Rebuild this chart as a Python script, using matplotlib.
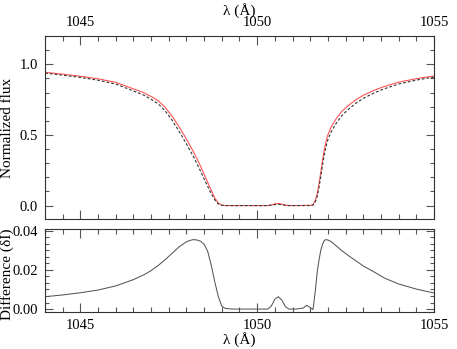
import matplotlib
matplotlib.use('Agg')
import matplotlib.pyplot as plt
from matplotlib.ticker import MultipleLocator

# wavelength grid (Angstrom)
wave = [1044.0, 1044.5, 1045.0, 1045.5, 1046.0, 1046.5, 1046.8, 1047.0, 1047.2, 1047.4,
        1047.6, 1047.8, 1048.0, 1048.1, 1048.2, 1048.3, 1048.4, 1048.5, 1048.6, 1048.7,
        1048.8, 1048.9, 1049.0, 1049.1, 1049.3, 1049.6, 1050.0, 1050.3, 1050.4, 1050.5,
        1050.6, 1050.7, 1050.8, 1050.9, 1051.1, 1051.3, 1051.4, 1051.5, 1051.58, 1051.65,
        1051.7, 1051.75, 1051.8, 1051.85, 1051.9, 1051.95, 1052.0, 1052.1, 1052.25, 1052.4,
        1052.6, 1052.8, 1053.0, 1053.3, 1053.6, 1054.0, 1054.5, 1055.0]

# red solid profile
flux_red = [0.943, 0.930, 0.915, 0.897, 0.872, 0.826, 0.798, 0.772, 0.742, 0.695,
            0.630, 0.555, 0.470, 0.425, 0.380, 0.330, 0.278, 0.222, 0.165, 0.108,
            0.055, 0.018, 0.003, 0.0003, 0.0, 0.0, 0.0, 0.0, 0.004, 0.012,
            0.015, 0.010, 0.003, 0.0, 0.0, 0.0005, 0.002, 0.001, 0.004, 0.040,
            0.085, 0.155, 0.235, 0.320, 0.395, 0.455, 0.500, 0.559, 0.620, 0.668,
            0.712, 0.750, 0.780, 0.815, 0.843, 0.873, 0.898, 0.917]

# black dashed profile
flux_dash = [0.937, 0.923, 0.907, 0.887, 0.860, 0.811, 0.781, 0.752, 0.720, 0.670,
             0.602, 0.523, 0.436, 0.390, 0.345, 0.295, 0.243, 0.189, 0.136, 0.086,
             0.041, 0.012, 0.002, 0.0, 0.0, 0.0, 0.0, 0.0, 0.0025, 0.0070,
             0.0087, 0.0055, 0.0018, 0.0, 0.0, 0.0, 0.0001, 0.0002, 0.0043, 0.030,
             0.066, 0.130, 0.205, 0.287, 0.360, 0.420, 0.465, 0.525, 0.588, 0.638,
             0.685, 0.7255, 0.758, 0.796, 0.827, 0.860, 0.888, 0.909]

# difference panel
diff = [0.0063, 0.0072, 0.0083, 0.0097, 0.0118, 0.0150, 0.0175, 0.0196, 0.0222, 0.0252,
        0.0285, 0.0318, 0.0343, 0.0350, 0.0354, 0.0352, 0.0346, 0.0330, 0.0295, 0.0225,
        0.0140, 0.0065, 0.0015, 0.0003, 0.0, 0.0, 0.0, 0.0, 0.0015, 0.0050,
        0.0063, 0.0045, 0.0012, 0.0, 0.0, 0.0005, 0.0019, 0.0008, -0.0003, 0.010,
        0.019, 0.025, 0.030, 0.033, 0.0350, 0.0354, 0.0352, 0.0343, 0.0320, 0.0297,
        0.0270, 0.0245, 0.0220, 0.0190, 0.0158, 0.0128, 0.0102, 0.0082]

plt.rcParams['font.family'] = ['Liberation Serif', 'DejaVu Serif']
plt.rcParams['font.size'] = 10.5

fig = plt.figure(figsize=(4.57, 3.49), dpi=100)
ax1 = fig.add_axes([0.0985, 0.3725, 0.851, 0.5244])
ax2 = fig.add_axes([0.0985, 0.106, 0.851, 0.2378])


def style(ax, labeltop):
    for s in ax.spines.values():
        s.set_linewidth(0.8)
        s.set_color('#333333')
    ax.tick_params(which='both', direction='in', top=True, right=True,
                   color='#555555', width=0.8, labelsize=10.5, pad=5)
    ax.tick_params(which='major', length=6.5)
    ax.tick_params(which='minor', length=3.5)
    ax.tick_params(axis='y', which='major', length=5.5)
    ax.tick_params(axis='y', which='minor', length=2.8)
    ax.tick_params(axis='x', labeltop=labeltop, labelbottom=not labeltop)
    ax.xaxis.set_major_locator(MultipleLocator(5))
    ax.xaxis.set_minor_locator(MultipleLocator(0.5))
    ax.set_xlim(1044, 1055)


style(ax1, True)
ax1.plot(wave, flux_red, color='#ff5555', lw=0.8)
ax1.plot(wave, flux_dash, color='#333333', lw=0.8, dashes=(2.5, 1.8))
ax1.set_ylim(-0.095, 1.2)
ax1.yaxis.set_major_locator(MultipleLocator(0.5))
ax1.yaxis.set_minor_locator(MultipleLocator(0.1))
ax1.yaxis.set_major_formatter(plt.FormatStrFormatter('%.1f'))
ax1.set_ylabel('Normalized flux', fontsize=11)
ax1.yaxis.set_label_coords(-0.079, 0.5)
ax1.xaxis.set_label_position('top')
ax1.set_xlabel('λ (Å)', labelpad=1, fontsize=11)

style(ax2, False)
ax2.plot(wave, diff, color='#555555', lw=0.75)
ax2.set_ylim(-0.0015, 0.0408)
ax2.yaxis.set_major_locator(MultipleLocator(0.02))
ax2.yaxis.set_minor_locator(MultipleLocator(0.02 / 6))
ax2.yaxis.set_major_formatter(plt.FormatStrFormatter('%.2f'))
ax2.set_ylabel('Difference (δI)', fontsize=11)
ax2.yaxis.set_label_coords(-0.079, 0.45)
ax2.set_xlabel('λ (Å)', labelpad=0, fontsize=11)

fig.savefig('out.png', dpi=100)
